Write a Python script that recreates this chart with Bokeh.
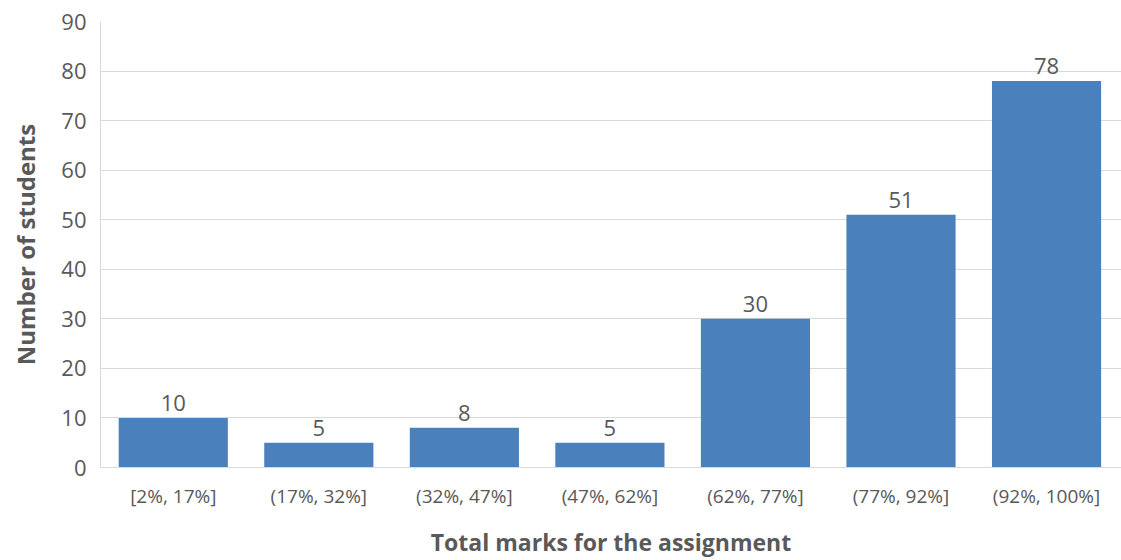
from bokeh.plotting import figure
from bokeh.models import Range1d, FixedTicker, ColumnDataSource, LabelSet
from bokeh.core.properties import value
from bokeh.embed import file_html
from bokeh.resources import INLINE

categories = ["[2%, 17%]", "(17%, 32%]", "(32%, 47%]", "(47%, 62%]",
              "(62%, 77%]", "(77%, 92%]", "(92%, 100%]"]
students = [10, 5, 8, 5, 30, 51, 78]
y_ticks = [0, 10, 20, 30, 40, 50, 60, 70, 80, 90]

FONT = "Open Sans"
GREY = "#595959"

xs = list(range(len(categories)))
src = ColumnDataSource(dict(x=xs, y=students, lab=[str(v) for v in students]))

p = figure(width=1121, height=560, output_backend="svg", toolbar_location=None,
           x_range=Range1d(-0.5, len(categories) - 0.5 + 0.015),
           y_range=Range1d(0, 90),
           min_border_left=100, min_border_right=0, min_border_top=21,
           min_border_bottom=92)
p.outline_line_color = None
p.background_fill_color = "white"
p.border_fill_color = "white"

p.vbar(x="x", top="y", width=0.75, bottom=0, source=src,
       fill_color="#4a81bd", line_color=None)

labels = LabelSet(x="x", y="y", text="lab", source=src, text_align="center",
                  text_baseline="alphabetic", y_offset=7, text_font=value(FONT),
                  text_font_size="22px", text_color="#595959")
p.add_layout(labels)

p.xaxis.ticker = FixedTicker(ticks=xs)
p.xaxis.major_label_overrides = {i: c for i, c in enumerate(categories)}
p.yaxis.ticker = FixedTicker(ticks=y_ticks)

for ax in (p.xaxis, p.yaxis):
    ax.major_tick_line_color = None
    ax.minor_tick_line_color = None
    ax.major_tick_out = 0
    ax.major_tick_in = 0
    ax.minor_tick_out = 0
    ax.axis_line_color = "#d9d9d9"
    ax.axis_line_width = 1
    ax.major_label_text_font = FONT
    ax.major_label_text_color = GREY
    ax.axis_label_text_font = FONT
    ax.axis_label_text_font_style = "bold"
    ax.axis_label_text_color = GREY

p.xaxis.axis_label_text_font_size = "23px"
p.yaxis.axis_label_text_font_size = "24px"
p.yaxis.major_label_text_font_size = "22px"
p.xaxis.major_label_text_font_size = "19px"
p.yaxis.major_label_standoff = 14
p.xaxis.major_label_standoff = 15
p.xaxis.axis_label = "Total marks for the assignment"
p.yaxis.axis_label = "Number of students"
p.xaxis.axis_label_standoff = 14
p.yaxis.axis_label_standoff = 16

p.xgrid.grid_line_color = None
p.ygrid.grid_line_color = "#d9d9d9"
p.ygrid.grid_line_width = 1

open("out.html", "w").write(file_html(p, INLINE))
